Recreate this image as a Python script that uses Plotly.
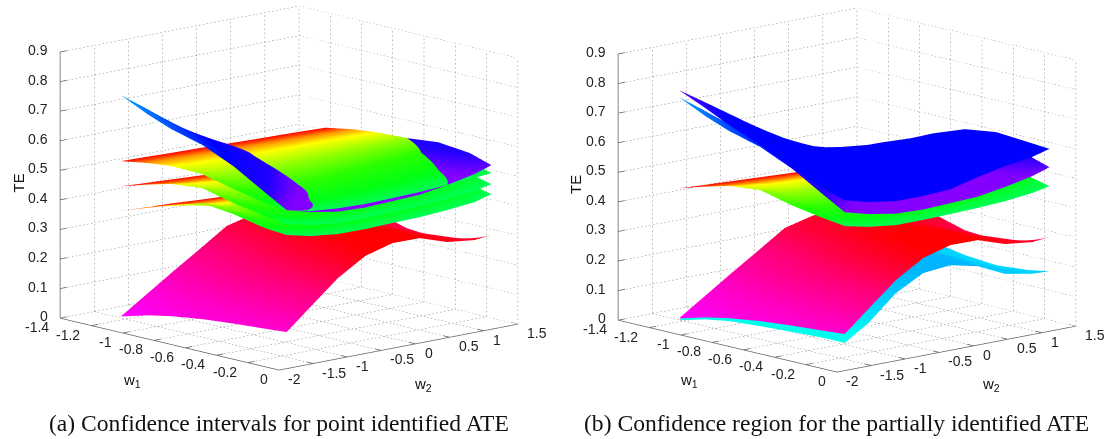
import plotly.graph_objects as go

w1_grid = [-1.12, -0.95, -0.8, -0.6, -0.4, -0.2, -0.06]
w2_grid = [-1.75, -1.4, -1.0, -0.6, -0.2, 0.2, 0.6, 1.0, 1.25]

w1_ticks = [-1.4, -1.2, -1, -0.8, -0.6, -0.4, -0.2, 0]
w2_ticks = [-2, -1.5, -1, -0.5, 0, 0.5, 1, 1.5]
te_ticks = [0, 0.1, 0.2, 0.3, 0.4, 0.5, 0.6, 0.7, 0.8, 0.9]

lower_pink = [
    [.03, .084, .146, .206, .267, .29, .30, .305, .31],
    [.055, .11, .17, .225, .278, .30, .30, .295, .30],
    [.071, .13, .19, .245, .29, .31, .305, .29, .29],
    [.086, .148, .215, .27, .31, .325, .31, .275, .26],
    [.096, .16, .235, .29, .325, .335, .315, .28, .252],
    [.104, .172, .25, .307, .337, .34, .312, .29, .27],
    [.11, .18, .259, .316, .342, .341, .31, .299, .305],
]
lower_cyan = [
    [.024, .07, .125, .175, .225, .235, .23, .22, .21],
    [.048, .09, .145, .19, .23, .24, .225, .21, .205],
    [.061, .105, .16, .205, .24, .25, .225, .20, .195],
    [.069, .118, .18, .23, .255, .26, .225, .19, .176],
    [.075, .125, .195, .25, .27, .265, .225, .185, .167],
    [.08, .13, .208, .26, .272, .26, .215, .19, .176],
    [.08, .132, .215, .265, .274, .253, .209, .192, .189],
]
sheet_top = [
    [.555, .553, .55, .548, .545, .542, .54, .537, .535],
    [.57, .568, .565, .562, .56, .557, .555, .552, .551],
    [.579, .573, .57, .567, .565, .563, .562, .56, .56],
    [.576, .56, .555, .556, .558, .56, .562, .564, .565],
    [.551, .53, .525, .527, .532, .538, .545, .552, .556],
    [.529, .512, .505, .504, .507, .512, .52, .53, .537],
    [.522, .503, .495, .492, .494, .497, .503, .509, .514],
]
sheet_mid = [
    [.47, .465, .46, .455, .45, .445, .437, .433, .428],
    [.497, .485, .478, .472, .468, .464, .458, .453, .45],
    [.518, .505, .495, .49, .485, .48, .476, .472, .47],
    [.529, .505, .495, .49, .488, .487, .487, .488, .49],
    [.503, .48, .47, .468, .47, .475, .482, .493, .50],
    [.485, .465, .452, .45, .452, .457, .465, .485, .495],
    [.475, .457, .445, .445, .447, .45, .455, .465, .477],
]
sheet_low = [
    [.386, .382, .379, .373, .368, .363, .359, .354, .348],
    [.421, .41, .40, .395, .39, .386, .382, .38, .38],
    [.447, .43, .42, .415, .41, .408, .406, .407, .41],
    [.478, .45, .44, .435, .432, .432, .433, .437, .44],
    [.466, .437, .425, .423, .425, .428, .435, .45, .46],
    [.444, .428, .415, .413, .415, .418, .425, .44, .46],
    [.438, .419, .408, .407, .41, .412, .418, .427, .443],
]
sheet_blue = [
    [.778, .72, .65, .59, .53, .49, .475, .475, .47],
    [.735, .69, .63, .585, .535, .505, .48, .49, .50],
    [.704, .665, .62, .57, .53, .51, .50, .52, .55],
    [.675, .63, .59, .54, .52, .51, .51, .535, .565],
    [.628, .585, .54, .51, .50, .495, .505, .552, .576],
    [.565, .53, .50, .49, .485, .49, .505, .545, .565],
    [.522, .50, .484, .48, .484, .488, .503, .522, .541],
]
sheet_upper_blue = [
    [.802, .749, .687, .619, .557, .522, .505, .494, .493],
    [.762, .72, .665, .61, .565, .54, .53, .525, .527],
    [.724, .69, .645, .60, .57, .555, .55, .555, .563],
    [.681, .645, .61, .58, .565, .56, .57, .59, .602],
    [.632, .60, .575, .555, .55, .56, .58, .605, .617],
    [.586, .555, .54, .535, .54, .555, .58, .60, .609],
    [.562, .541, .526, .526, .531, .554, .574, .587, .603],
]
sheet_hue_rows = [0, 35, 60, 85, 110, 125, 140]

captions = ["(a) Confidence intervals for point identified ATE",
            "(b) Confidence region for the partially identified ATE"]

HUE_SCALE = [[0, "#ff0000"], [30/140, "#ff8000"], [60/140, "#ffff00"], [85/140, "#95ff00"],
             [110/140, "#2aff00"], [125/140, "#00ff15"], [1, "#00ff55"]]
PINK = [[0, "#ff00ff"], [0.33, "#ff00c0"], [0.66, "#ff0070"], [1, "#ff0000"]]
CYAN = [[0, "#00ffdd"], [0.3, "#00fff0"], [0.65, "#00d5ff"], [1, "#00b4ff"]]
BLUE = [[0, "#8800ff"], [0.17, "#8000ff"], [0.30, "#2000ff"], [0.55, "#0000ff"],
        [0.8, "#0066ff"], [1, "#00aaff"]]
VIOLET = [[0, "#0000ff"], [0.75, "#0000ff"], [0.9, "#3000ff"], [1, "#6a00ff"]]


def surf(z, scale, cmin, cmax, scene, color=None):
    return go.Surface(x=w1_grid, y=w2_grid, z=list(map(list, zip(*z))),
                      surfacecolor=None if color is None else list(map(list, zip(*color))),
                      colorscale=scale, cmin=cmin, cmax=cmax, showscale=False, scene=scene,
                      hoverinfo="skip",
                      lighting=dict(ambient=1, diffuse=0, specular=0, fresnel=0, roughness=1))


def hue_table(rows):
    return [[h] * len(w2_grid) for h in rows]


def grid_trace(scene):
    x0, x1 = w1_ticks[0], w1_ticks[-1]
    y0, y1 = w2_ticks[0], w2_ticks[-1]
    z0, z1 = te_ticks[0], te_ticks[-1]
    xs, ys, zs = [], [], []

    def seg(a, b, n=62):
        for i in range(n):
            s0, s1 = i / n, (i + 0.4) / n
            xs.extend([a[0] + (b[0] - a[0]) * s0, a[0] + (b[0] - a[0]) * s1, None])
            ys.extend([a[1] + (b[1] - a[1]) * s0, a[1] + (b[1] - a[1]) * s1, None])
            zs.extend([a[2] + (b[2] - a[2]) * s0, a[2] + (b[2] - a[2]) * s1, None])
    for t in w1_ticks:
        seg((t, y0, z0), (t, y1, z0))
        seg((t, y1, z0), (t, y1, z1))
    for t in w2_ticks:
        seg((x0, t, z0), (x1, t, z0))
        seg((x0, t, z0), (x0, t, z1))
    for t in te_ticks:
        seg((x0, y0, t), (x0, y1, t))
        seg((x0, y1, t), (x1, y1, t))
    return go.Scatter3d(x=xs, y=ys, z=zs, mode="lines", scene=scene, hoverinfo="skip", showlegend=False,
                        line=dict(color="#808080", width=1))


def axes_trace(scene):
    x0, x1 = w1_ticks[0], w1_ticks[-1]
    y0, y1 = w2_ticks[0], w2_ticks[-1]
    z1 = te_ticks[-1]
    xs = [x0, x0, None, x0, x1, x1, None]
    ys = [y0, y0, None, y0, y0, y1, None]
    zs = [z1, 0, None, 0, 0, 0, None]
    for t in te_ticks:
        xs += [x0, x0, None]; ys += [y0, y0 + 0.1, None]; zs += [t, t, None]
    for t in w1_ticks:
        xs += [t, t, None]; ys += [y0, y0 + 0.1, None]; zs += [0, 0, None]
    for t in w2_ticks:
        xs += [x1, x1 - 0.04, None]; ys += [t, t, None]; zs += [0, 0, None]
    return go.Scatter3d(x=xs, y=ys, z=zs, mode="lines", scene=scene, hoverinfo="skip", showlegend=False,
                        line=dict(color="#5c5c5c", width=1.5))


fig = go.Figure()
hue_colors = hue_table(sheet_hue_rows)
panels = {
    "scene": [surf(lower_pink, PINK, .03, .33, "scene"),
              surf(sheet_low, HUE_SCALE, 0, 140, "scene", hue_colors),
              surf(sheet_mid, HUE_SCALE, 0, 140, "scene", hue_colors),
              surf(sheet_top, HUE_SCALE, 0, 140, "scene", hue_colors),
              surf(sheet_blue, BLUE, .47, .78, "scene")],
    "scene2": [surf(lower_cyan, CYAN, .02, .27, "scene2"),
               surf(lower_pink, PINK, .03, .33, "scene2"),
               surf(sheet_mid, HUE_SCALE, 0, 140, "scene2", hue_colors),
               surf(sheet_blue, BLUE, .47, .78, "scene2"),
               surf(sheet_upper_blue, VIOLET, .49, .80, "scene2")],
}
for name, traces in panels.items():
    fig.add_trace(grid_trace(name))
    fig.add_trace(axes_trace(name))
    fig.add_traces(traces)


def axis(ticks, rng):
    return dict(range=rng, tickvals=ticks, title=dict(text=""), showgrid=False, zeroline=False,
                showline=False, showbackground=False, ticks="", showspikes=False, showticklabels=False)


def tick_notes():
    font = dict(family="Liberation Sans, Arial", size=14, color="#222222")
    notes = []
    for t in te_ticks:
        notes.append(dict(x=w1_ticks[0], y=w2_ticks[0], z=t, text=f"{t:g}", showarrow=False, font=font,
                          xanchor="right", yanchor="middle", xshift=-10, yshift=2))
    for t in w1_ticks:
        notes.append(dict(x=t, y=w2_ticks[0], z=0, text=f"{t:g}", showarrow=False, font=font,
                          xanchor="right", yanchor="middle", xshift=-9, yshift=-9))
    for t in w2_ticks:
        notes.append(dict(x=w1_ticks[-1], y=t, z=0, text=f"{t:g}", showarrow=False, font=font,
                          xanchor="left", yanchor="middle", xshift=7, yshift=-9))
    return notes


def scene(dom_x, dom_y):
    return dict(domain=dict(x=dom_x, y=dom_y),
                xaxis=axis(w1_ticks, [-1.4, 0]),
                yaxis=axis(w2_ticks, [-2, 1.5]),
                zaxis=axis(te_ticks, [0, 0.9005]),
                aspectmode="manual", aspectratio=dict(x=1.74, y=1.71, z=1.45),
                camera=dict(projection=dict(type="orthographic"), up=dict(x=0, y=0, z=1),
                            center=dict(x=0, y=0, z=0),
                            eye=dict(x=0.996, y=-0.897, z=0.293)),
                annotations=tick_notes(),
                bgcolor="white")


H = 439
W = 1107
fig.update_layout(width=W, height=H, margin=dict(l=0, r=0, t=0, b=0), paper_bgcolor="white",
                  showlegend=False,
                  scene=scene([29 / W, 549 / W], [(H - 376) / H, 1]),
                  scene2=scene([587 / W, 1107 / W], [(H - 378) / H, (H - 2) / H]))


def note(text, x, y, size=15, family="Liberation Sans, Arial", angle=0):
    fig.add_annotation(text=text, x=x / W, y=1 - y / H, xref="paper", yref="paper", showarrow=False,
                       xanchor="center", yanchor="middle",
                       textangle=angle, font=dict(family=family, size=size, color="#111111"))


note("w<sub>1</sub>", 132, 380)
note("w<sub>2</sub>", 423, 384)
note("TE", 17.5, 183, angle=-90)
note("w<sub>1</sub>", 689, 380)
note("w<sub>2</sub>", 991, 384)
note("TE", 575, 185, angle=-90)
note(captions[0], 278.5, 423, size=23.6, family="Liberation Serif")
note(captions[1], 836, 423, size=23.6, family="Liberation Serif")

fig.write_html("out.html", config=dict(displayModeBar=False),
               post_script="document.body.style.margin='0';")
